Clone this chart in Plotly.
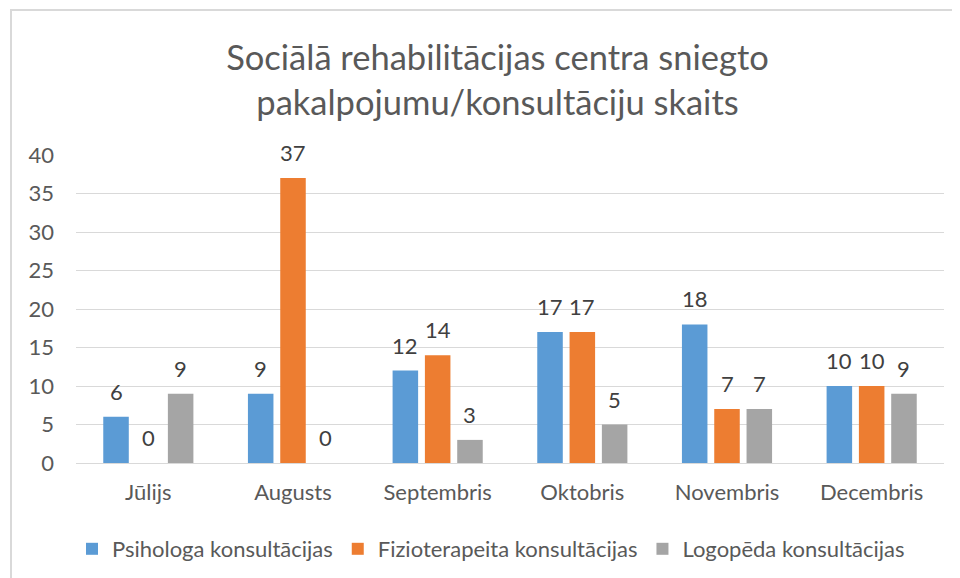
import plotly.graph_objects as go

categories = ["Jūlijs", "Augusts", "Septembris", "Oktobris", "Novembris", "Decembris"]
psihologa = [6, 9, 12, 17, 18, 10]
fizioterapeita = [0, 37, 14, 17, 7, 10]
logopeda = [9, 0, 3, 5, 7, 9]
series_names = ["Psihologa konsultācijas", "Fizioterapeita konsultācijas", "Logopēda konsultācijas"]
series_values = [psihologa, fizioterapeita, logopeda]
colors = ["#5B9BD5", "#ED7D31", "#A5A5A5"]
y_ticks = [0, 5, 10, 15, 20, 25, 30, 35, 40]
title_text = "Sociālā rehabilitācijas centra sniegto<br>pakalpojumu/konsultāciju skaits"

FONT = "Lato"
OFF = 8  # page body margin
W, H = 960 - OFF, 578 - OFF
ML, MR, MT, MB = 76 - OFF, 16, 155 - OFF, 115
plot_w = W - ML - MR
plot_h = H - MT - MB
bargap = 0.33
slot = plot_w / len(categories) * (1 - bargap) / 3

fig = go.Figure()
for name, vals, col in zip(series_names, series_values, colors):
    fig.add_trace(go.Bar(x=categories, y=vals, name=name, marker_color=col,
                         marker_line_width=0, hoverinfo="skip"))

annotations = []
for i, vals in enumerate(series_values):
    for c, v in zip(categories, vals):
        annotations.append(dict(x=c, y=v, xref="x", yref="y", text=str(v), showarrow=False,
                                xshift=(i - 1) * slot, yanchor="bottom", yshift=10,
                                font=dict(family=FONT, size=22, color="#404040")))

def px2paper_x(px):
    return (px - OFF - ML) / plot_w

def px2paper_y(py):
    return (H - MB - (py - OFF)) / plot_h

shapes = [
    dict(type="line", xref="paper", yref="paper", x0=px2paper_x(11), x1=px2paper_x(11),
         y0=px2paper_y(10), y1=px2paper_y(600), line=dict(color="#D9D9D9", width=2)),
    dict(type="line", xref="paper", yref="paper", x0=px2paper_x(10), x1=px2paper_x(980),
         y0=px2paper_y(10), y1=px2paper_y(10), line=dict(color="#D9D9D9", width=2)),
]

fig.update_layout(
    width=W, height=H,
    margin=dict(l=ML, r=MR, t=MT, b=MB, pad=0, autoexpand=False),
    paper_bgcolor="white", plot_bgcolor="white",
    barmode="group", bargap=bargap, bargroupgap=0.21,
    title=dict(text=title_text, x=(497.5 - OFF) / W, xanchor="center", xref="container",
               y=1 - 62 / H, yanchor="top", yref="container",
               font=dict(family=FONT, size=34.5, color="#595959")),
    xaxis=dict(showgrid=False, showline=False, ticks="", ticklabelstandoff=14, automargin=False,
               tickfont=dict(family=FONT, size=22, color="#595959"), fixedrange=True),
    yaxis=dict(range=[0, 40], tickvals=y_ticks, showgrid=True, gridcolor="#D9D9D9", gridwidth=1,
               zeroline=True, zerolinecolor="#D9D9D9", zerolinewidth=1, showline=False, ticks="",
               ticklabelstandoff=21, automargin=False,
               tickfont=dict(family=FONT, size=22, color="#595959"), fixedrange=True),
    legend=dict(orientation="h", xref="container", yref="container", x=64 / W, xanchor="left",
                y=1 - 520 / H, yanchor="top",
                font=dict(family=FONT, size=22, color="#595959"), traceorder="normal"),
    annotations=annotations,
    shapes=shapes,
)

fig.write_html("out.html", config={"displayModeBar": False})
